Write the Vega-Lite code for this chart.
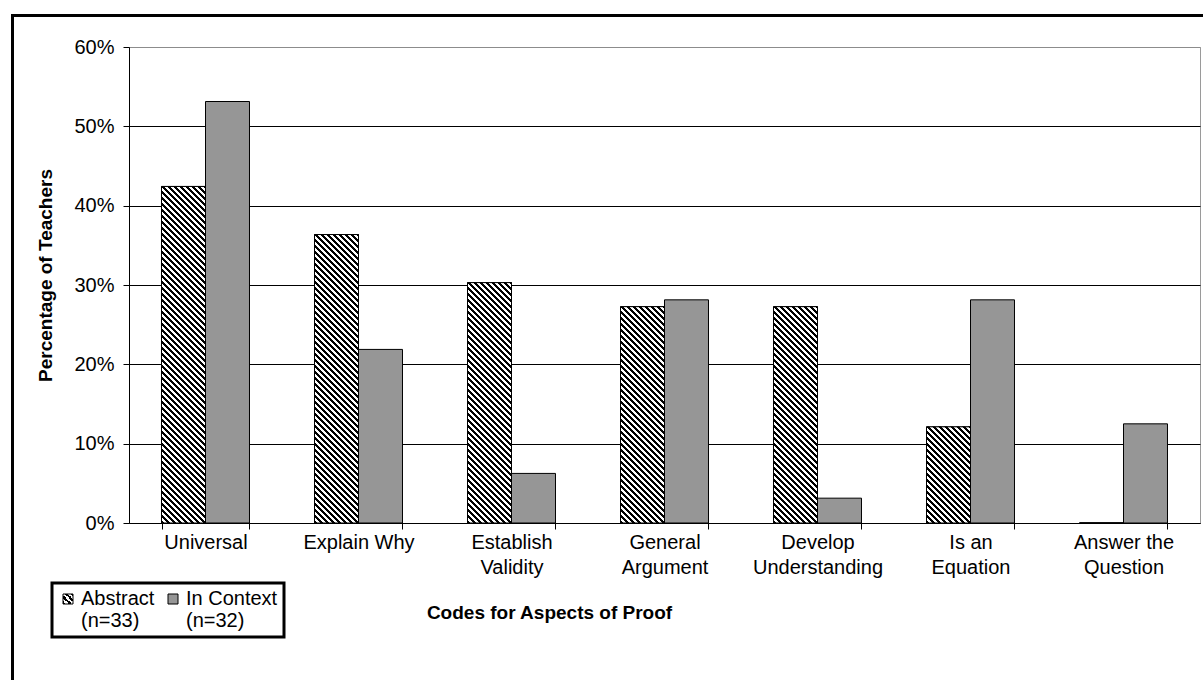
{
  "$schema": "https://vega.github.io/schema/vega-lite/v6.json",
  "width": 1071,
  "height": 476,
  "autosize": {"type": "none"},
  "padding": {"left": 129, "top": 47, "right": 3, "bottom": 157},
  "background": "white",
  "params": [
    {
      "name": "hatchStops",
      "value": [
        {"offset":0,"color":"#000"},
        {"offset":0.005,"color":"#000"},{"offset":0.005,"color":"#fff"},{"offset":0.01,"color":"#fff"},{"offset":0.01,"color":"#000"},
        {"offset":0.015,"color":"#000"},{"offset":0.015,"color":"#fff"},{"offset":0.02,"color":"#fff"},{"offset":0.02,"color":"#000"},
        {"offset":0.025,"color":"#000"},{"offset":0.025,"color":"#fff"},{"offset":0.03,"color":"#fff"},{"offset":0.03,"color":"#000"},
        {"offset":0.035,"color":"#000"},{"offset":0.035,"color":"#fff"},{"offset":0.04,"color":"#fff"},{"offset":0.04,"color":"#000"},
        {"offset":0.045,"color":"#000"},{"offset":0.045,"color":"#fff"},{"offset":0.05,"color":"#fff"},{"offset":0.05,"color":"#000"},
        {"offset":0.055,"color":"#000"},{"offset":0.055,"color":"#fff"},{"offset":0.06,"color":"#fff"},{"offset":0.06,"color":"#000"},
        {"offset":0.065,"color":"#000"},{"offset":0.065,"color":"#fff"},{"offset":0.07,"color":"#fff"},{"offset":0.07,"color":"#000"},
        {"offset":0.075,"color":"#000"},{"offset":0.075,"color":"#fff"},{"offset":0.08,"color":"#fff"},{"offset":0.08,"color":"#000"},
        {"offset":0.085,"color":"#000"},{"offset":0.085,"color":"#fff"},{"offset":0.09,"color":"#fff"},{"offset":0.09,"color":"#000"},
        {"offset":0.095,"color":"#000"},{"offset":0.095,"color":"#fff"},{"offset":0.1,"color":"#fff"},{"offset":0.1,"color":"#000"},
        {"offset":0.105,"color":"#000"},{"offset":0.105,"color":"#fff"},{"offset":0.11,"color":"#fff"},{"offset":0.11,"color":"#000"},
        {"offset":0.115,"color":"#000"},{"offset":0.115,"color":"#fff"},{"offset":0.12,"color":"#fff"},{"offset":0.12,"color":"#000"},
        {"offset":0.125,"color":"#000"},{"offset":0.125,"color":"#fff"},{"offset":0.13,"color":"#fff"},{"offset":0.13,"color":"#000"},
        {"offset":0.135,"color":"#000"},{"offset":0.135,"color":"#fff"},{"offset":0.14,"color":"#fff"},{"offset":0.14,"color":"#000"},
        {"offset":0.145,"color":"#000"},{"offset":0.145,"color":"#fff"},{"offset":0.15,"color":"#fff"},{"offset":0.15,"color":"#000"},
        {"offset":0.155,"color":"#000"},{"offset":0.155,"color":"#fff"},{"offset":0.16,"color":"#fff"},{"offset":0.16,"color":"#000"},
        {"offset":0.165,"color":"#000"},{"offset":0.165,"color":"#fff"},{"offset":0.17,"color":"#fff"},{"offset":0.17,"color":"#000"},
        {"offset":0.175,"color":"#000"},{"offset":0.175,"color":"#fff"},{"offset":0.18,"color":"#fff"},{"offset":0.18,"color":"#000"},
        {"offset":0.185,"color":"#000"},{"offset":0.185,"color":"#fff"},{"offset":0.19,"color":"#fff"},{"offset":0.19,"color":"#000"},
        {"offset":0.195,"color":"#000"},{"offset":0.195,"color":"#fff"},{"offset":0.2,"color":"#fff"},{"offset":0.2,"color":"#000"},
        {"offset":0.205,"color":"#000"},{"offset":0.205,"color":"#fff"},{"offset":0.21,"color":"#fff"},{"offset":0.21,"color":"#000"},
        {"offset":0.215,"color":"#000"},{"offset":0.215,"color":"#fff"},{"offset":0.22,"color":"#fff"},{"offset":0.22,"color":"#000"},
        {"offset":0.225,"color":"#000"},{"offset":0.225,"color":"#fff"},{"offset":0.23,"color":"#fff"},{"offset":0.23,"color":"#000"},
        {"offset":0.235,"color":"#000"},{"offset":0.235,"color":"#fff"},{"offset":0.24,"color":"#fff"},{"offset":0.24,"color":"#000"},
        {"offset":0.245,"color":"#000"},{"offset":0.245,"color":"#fff"},{"offset":0.25,"color":"#fff"},{"offset":0.25,"color":"#000"},
        {"offset":0.255,"color":"#000"},{"offset":0.255,"color":"#fff"},{"offset":0.26,"color":"#fff"},{"offset":0.26,"color":"#000"},
        {"offset":0.265,"color":"#000"},{"offset":0.265,"color":"#fff"},{"offset":0.27,"color":"#fff"},{"offset":0.27,"color":"#000"},
        {"offset":0.275,"color":"#000"},{"offset":0.275,"color":"#fff"},{"offset":0.28,"color":"#fff"},{"offset":0.28,"color":"#000"},
        {"offset":0.285,"color":"#000"},{"offset":0.285,"color":"#fff"},{"offset":0.29,"color":"#fff"},{"offset":0.29,"color":"#000"},
        {"offset":0.295,"color":"#000"},{"offset":0.295,"color":"#fff"},{"offset":0.3,"color":"#fff"},{"offset":0.3,"color":"#000"},
        {"offset":0.305,"color":"#000"},{"offset":0.305,"color":"#fff"},{"offset":0.31,"color":"#fff"},{"offset":0.31,"color":"#000"},
        {"offset":0.315,"color":"#000"},{"offset":0.315,"color":"#fff"},{"offset":0.32,"color":"#fff"},{"offset":0.32,"color":"#000"},
        {"offset":0.325,"color":"#000"},{"offset":0.325,"color":"#fff"},{"offset":0.33,"color":"#fff"},{"offset":0.33,"color":"#000"},
        {"offset":0.335,"color":"#000"},{"offset":0.335,"color":"#fff"},{"offset":0.34,"color":"#fff"},{"offset":0.34,"color":"#000"},
        {"offset":0.345,"color":"#000"},{"offset":0.345,"color":"#fff"},{"offset":0.35,"color":"#fff"},{"offset":0.35,"color":"#000"},
        {"offset":0.355,"color":"#000"},{"offset":0.355,"color":"#fff"},{"offset":0.36,"color":"#fff"},{"offset":0.36,"color":"#000"},
        {"offset":0.365,"color":"#000"},{"offset":0.365,"color":"#fff"},{"offset":0.37,"color":"#fff"},{"offset":0.37,"color":"#000"},
        {"offset":0.375,"color":"#000"},{"offset":0.375,"color":"#fff"},{"offset":0.38,"color":"#fff"},{"offset":0.38,"color":"#000"},
        {"offset":0.385,"color":"#000"},{"offset":0.385,"color":"#fff"},{"offset":0.39,"color":"#fff"},{"offset":0.39,"color":"#000"},
        {"offset":0.395,"color":"#000"},{"offset":0.395,"color":"#fff"},{"offset":0.4,"color":"#fff"},{"offset":0.4,"color":"#000"},
        {"offset":0.405,"color":"#000"},{"offset":0.405,"color":"#fff"},{"offset":0.41,"color":"#fff"},{"offset":0.41,"color":"#000"},
        {"offset":0.415,"color":"#000"},{"offset":0.415,"color":"#fff"},{"offset":0.42,"color":"#fff"},{"offset":0.42,"color":"#000"},
        {"offset":0.425,"color":"#000"},{"offset":0.425,"color":"#fff"},{"offset":0.43,"color":"#fff"},{"offset":0.43,"color":"#000"},
        {"offset":0.435,"color":"#000"},{"offset":0.435,"color":"#fff"},{"offset":0.44,"color":"#fff"},{"offset":0.44,"color":"#000"},
        {"offset":0.445,"color":"#000"},{"offset":0.445,"color":"#fff"},{"offset":0.45,"color":"#fff"},{"offset":0.45,"color":"#000"},
        {"offset":0.455,"color":"#000"},{"offset":0.455,"color":"#fff"},{"offset":0.46,"color":"#fff"},{"offset":0.46,"color":"#000"},
        {"offset":0.465,"color":"#000"},{"offset":0.465,"color":"#fff"},{"offset":0.47,"color":"#fff"},{"offset":0.47,"color":"#000"},
        {"offset":0.475,"color":"#000"},{"offset":0.475,"color":"#fff"},{"offset":0.48,"color":"#fff"},{"offset":0.48,"color":"#000"},
        {"offset":0.485,"color":"#000"},{"offset":0.485,"color":"#fff"},{"offset":0.49,"color":"#fff"},{"offset":0.49,"color":"#000"},
        {"offset":0.495,"color":"#000"},{"offset":0.495,"color":"#fff"},{"offset":0.5,"color":"#fff"},{"offset":0.5,"color":"#000"},
        {"offset":0.505,"color":"#000"},{"offset":0.505,"color":"#fff"},{"offset":0.51,"color":"#fff"},{"offset":0.51,"color":"#000"},
        {"offset":0.515,"color":"#000"},{"offset":0.515,"color":"#fff"},{"offset":0.52,"color":"#fff"},{"offset":0.52,"color":"#000"},
        {"offset":0.525,"color":"#000"},{"offset":0.525,"color":"#fff"},{"offset":0.53,"color":"#fff"},{"offset":0.53,"color":"#000"},
        {"offset":0.535,"color":"#000"},{"offset":0.535,"color":"#fff"},{"offset":0.54,"color":"#fff"},{"offset":0.54,"color":"#000"},
        {"offset":0.545,"color":"#000"},{"offset":0.545,"color":"#fff"},{"offset":0.55,"color":"#fff"},{"offset":0.55,"color":"#000"},
        {"offset":0.555,"color":"#000"},{"offset":0.555,"color":"#fff"},{"offset":0.56,"color":"#fff"},{"offset":0.56,"color":"#000"},
        {"offset":0.565,"color":"#000"},{"offset":0.565,"color":"#fff"},{"offset":0.57,"color":"#fff"},{"offset":0.57,"color":"#000"},
        {"offset":0.575,"color":"#000"},{"offset":0.575,"color":"#fff"},{"offset":0.58,"color":"#fff"},{"offset":0.58,"color":"#000"},
        {"offset":0.585,"color":"#000"},{"offset":0.585,"color":"#fff"},{"offset":0.59,"color":"#fff"},{"offset":0.59,"color":"#000"},
        {"offset":0.595,"color":"#000"},{"offset":0.595,"color":"#fff"},{"offset":0.6,"color":"#fff"},{"offset":0.6,"color":"#000"},
        {"offset":0.605,"color":"#000"},{"offset":0.605,"color":"#fff"},{"offset":0.61,"color":"#fff"},{"offset":0.61,"color":"#000"},
        {"offset":0.615,"color":"#000"},{"offset":0.615,"color":"#fff"},{"offset":0.62,"color":"#fff"},{"offset":0.62,"color":"#000"},
        {"offset":0.625,"color":"#000"},{"offset":0.625,"color":"#fff"},{"offset":0.63,"color":"#fff"},{"offset":0.63,"color":"#000"},
        {"offset":0.635,"color":"#000"},{"offset":0.635,"color":"#fff"},{"offset":0.64,"color":"#fff"},{"offset":0.64,"color":"#000"}
      ]
    }
  ],
  "data": {
    "values": [
      {"code": "Universal", "series": "Abstract", "pct": 0.4242},
      {"code": "Universal", "series": "In Context", "pct": 0.5313},
      {"code": "Explain Why", "series": "Abstract", "pct": 0.3636},
      {"code": "Explain Why", "series": "In Context", "pct": 0.2188},
      {"code": "Establish Validity", "series": "Abstract", "pct": 0.3030},
      {"code": "Establish Validity", "series": "In Context", "pct": 0.0625},
      {"code": "General Argument", "series": "Abstract", "pct": 0.2727},
      {"code": "General Argument", "series": "In Context", "pct": 0.2813},
      {"code": "Develop Understanding", "series": "Abstract", "pct": 0.2727},
      {"code": "Develop Understanding", "series": "In Context", "pct": 0.0313},
      {"code": "Is an Equation", "series": "Abstract", "pct": 0.1212},
      {"code": "Is an Equation", "series": "In Context", "pct": 0.2813},
      {"code": "Answer the Question", "series": "Abstract", "pct": 0},
      {"code": "Answer the Question", "series": "In Context", "pct": 0.125}
    ]
  },
  "encoding": {
    "x": {
      "field": "code",
      "type": "nominal",
      "sort": null,
      "scale": {"paddingInner": 0.425, "paddingOuter": 0.2125},
      "axis": {
        "title": "Codes for Aspects of Proof",
        "labelAngle": 0,
        "labelExpr": "indexof(['Universal', 'Explain Why'], datum.label) >= 0 ? datum.label : (datum.label == 'Is an Equation' ? ['Is an', 'Equation'] : (datum.label == 'Answer the Question' ? ['Answer the', 'Question'] : split(datum.label, ' ')))",
        "labelFontSize": 20,
        "labelLineHeight": 25,
        "labelColor": "black",
        "labelPadding": 3,
        "labelOverlap": false,
        "labelLimit": 0,
        "tickBand": "extent",
        "tickSize": 6,
        "tickColor": "black",
        "domainColor": "black",
        "titleFontSize": 19,
        "titleFontWeight": "bold",
        "titleColor": "black",
        "titleX": 420,
        "titleY": 89,
        "titleAlign": "center",
        "titleBaseline": "middle"
      }
    },
    "xOffset": {
      "field": "series",
      "type": "nominal",
      "sort": ["Abstract", "In Context"],
      "scale": {"paddingInner": 0, "paddingOuter": 0}
    },
    "y": {
      "field": "pct",
      "type": "quantitative",
      "stack": null,
      "scale": {"domain": [0, 0.6], "nice": false},
      "axis": {
        "title": "Percentage of Teachers",
        "values": [0, 0.1, 0.2, 0.3, 0.4, 0.5, 0.6],
        "format": ".0%",
        "grid": true,
        "gridColor": {"condition": {"test": "datum.value >= 0.59", "value": "#8c8c8c"}, "value": "black"},
        "gridWidth": 1,
        "domainColor": "black",
        "tickColor": "black",
        "tickSize": 6,
        "labelPadding": 9,
        "labelFontSize": 20,
        "labelColor": "black",
        "titleFontSize": 19,
        "titleFontWeight": "bold",
        "titleColor": "black",
        "titleX": -84,
        "titleY": 228,
        "titleAngle": -90,
        "titleAlign": "center",
        "titleBaseline": "middle"
      }
    }
  },
  "layer": [
    {
      "mark": {"type": "bar", "stroke": "black", "strokeWidth": 1},
      "encoding": {
        "fill": {
          "field": "series",
          "type": "nominal",
          "scale": {
            "domain": ["Abstract", "In Context"],
            "range": [
              {"expr": "{gradient: 'linear', x1: 0, y1: 1, x2: 1, y2: 0, stops: [{offset: 0, color: '#000'}, {offset: 0.15, color: '#000'}, {offset: 0.15, color: '#fff'}, {offset: 0.3, color: '#fff'}, {offset: 0.3, color: '#000'}, {offset: 0.45, color: '#000'}, {offset: 0.45, color: '#fff'}, {offset: 0.6, color: '#fff'}, {offset: 0.6, color: '#000'}, {offset: 0.75, color: '#000'}, {offset: 0.75, color: '#fff'}, {offset: 0.9, color: '#fff'}, {offset: 0.9, color: '#000'}, {offset: 1, color: '#000'}]}"},
              "#969696"
            ]
          },
          "legend": {
            "orient": "none",
            "legendX": -77,
            "legendY": 536,
            "direction": "horizontal",
            "columns": 2,
            "title": null,
            "symbolType": "square",
            "symbolSize": 100,
            "symbolStrokeColor": "black",
            "symbolStrokeWidth": 1,
            "labelFontSize": 20,
            "labelColor": "black",
            "labelOffset": 3,
            "labelLimit": 0,
            "labelExpr": "datum.label == 'Abstract' ? ['Abstract', '(n=33)'] : ['In Context', '(n=32)']",
            "padding": 6,
            "columnPadding": 8,
            "strokeColor": "black",
            "fillColor": "white"
          }
        }
      }
    },
    {
      "transform": [{"filter": "datum.series === 'Abstract'"}],
      "mark": {
        "type": "bar",
        "stroke": "black",
        "strokeWidth": 1,
        "fill": {"expr": "{gradient: 'linear', x1: 0, y1: 1, x2: 600 * bandwidth('xOffset') / (pow(bandwidth('xOffset'), 2) + pow(scale('y', 0) - scale('y', datum.pct), 2)), y2: 1 - 600 * (scale('y', 0) - scale('y', datum.pct)) / (pow(bandwidth('xOffset'), 2) + pow(scale('y', 0) - scale('y', datum.pct), 2)), stops: hatchStops}"}
      },
      "encoding": {
        "opacity": {
          "datum": "frame",
          "type": "ordinal",
          "scale": {"type": "point", "range": [1, 1]},
          "legend": {
            "orient": "none", "legendX": -116.5, "legendY": -31.5, "title": null, "padding": 900,
            "strokeColor": "black", "symbolOpacity": 0, "symbolSize": 0, "labelExpr": "''"
          }
        }
      }
    }
  ],
  "config": {
    "font": "Liberation Sans",
    "view": {"stroke": "#9a9a9a", "strokeWidth": 1},
    "axis": {"labelFont": "Liberation Sans", "titleFont": "Liberation Sans"},
    "legend": {"labelFont": "Liberation Sans", "strokeWidth": 3}
  }
}
